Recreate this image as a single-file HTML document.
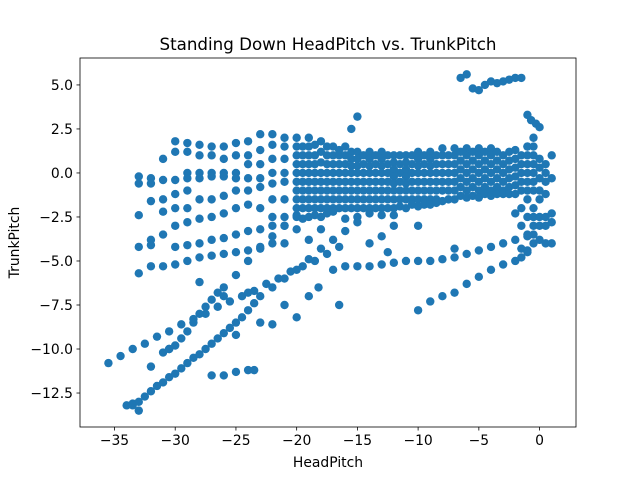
<!DOCTYPE html>
<html><head><meta charset="utf-8"><style>
body{margin:0;background:#fff;font-family:"DejaVu Sans","Liberation Sans",sans-serif;}
svg{display:block}
</style></head><body>
<svg id="chart" width="640" height="480"></svg>
<script>
// Track data (HeadPitch, TrunkPitch)
const track1X=[-35.5,-34.5,-33.5,-32.5,-31.5,-30.5,-29.5,-28.5,-27.5,-26.5,-25.5,-24.5,-23.5,-22.5,-21.5,-20.5,-19.5,-18.5,-17.5,-16.5];
const track1Y=[-10.8,-10.4,-10,-9.7,-9.3,-9,-8.6,-8.3,-8,-7.6,-7.3,-7,-6.7,-6.3,-6,-5.6,-5.3,-5,-4.6,-4.2];
const track2X=[-34,-33.5,-33,-32.5,-32,-31.5,-31,-30.5,-30,-29.5,-29,-28.5,-28,-27.5,-27,-26.5,-26,-25.5,-25,-24.5,-24,-23.5,-23,-22,-21,-20,-19,-18,-17,-16,-15];
const track2Y=[-13.2,-13.1,-13,-12.7,-12.4,-12.1,-11.9,-11.6,-11.4,-11.1,-10.8,-10.5,-10.3,-10,-9.7,-9.4,-9.1,-8.8,-8.5,-8.2,-7.8,-7.4,-7,-6.5,-6,-5.5,-4.9,-4.3,-3.8,-3.3,-2.8];
const track3X=[-31,-30.5,-30,-29.5,-29,-28.5,-28,-27.5,-27,-26.5,-26,-25,-24,-23,-22,-21,-20];
const track3Y=[-10.2,-10,-9.8,-9.4,-9,-8.5,-8,-7.6,-7.2,-6.8,-6.5,-5.8,-5,-4.3,-3.6,-3,-2.4];
const track4X=[-10,-9,-8,-7,-6,-5,-4,-3,-2,-1.5,-1];
const track4Y=[-7.8,-7.3,-7,-6.8,-6.3,-5.9,-5.5,-5.2,-5,-4.8,-4.5];
const track5X=[-17,-16,-15,-14,-13,-12,-11,-10,-9,-8,-7,-6,-5,-4,-3,-2,-1];
const track5Y=[-5.5,-5.3,-5.3,-5.3,-5.2,-5.1,-5,-5,-5,-4.9,-4.8,-4.6,-4.4,-4.2,-4,-3.8,-3.6];
const track6X=[-6.5,-6,-5.5,-5,-4.5,-4,-3.5,-3,-2.5,-2,-1.5,-1,-0.7,-0.3,0,-1,-0.5];
const track6Y=[5.4,5.6,4.8,4.7,5,5.2,5.1,5.2,5.3,5.4,5.4,3.3,3,2.8,2.6,1.5,2];
const outX=[-15,-15.5,-14,-12,-12.5,-19,-18,-25,-23,-21,-19,-20,-30.5,-32,-27,-26,-25,-24,-23.5,-33.5,-33,-18.2,-22,-24,-26,-28,-10,-7,-13,-16.5];
const outY=[3.2,2.5,-4,-3,-4.5,-3.8,-3.2,-9.2,-8.5,-7.5,-7,-8.2,-10,-11,-11.5,-11.5,-11.3,-11.2,-11.2,-13.2,-13.5,-6.5,-8.6,-6.8,-7,-6.2,-3,-4.3,-3.6,-7.5];
// Column data for dense band
const colX=[-33,-32,-31,-30,-29,-28,-27,-26,-25,-24,-23,-22,-21,
 -20,-19.5,-19,-18.5,-18,-17.5,-17,-16.5,-16,-15.5,-15,-14.5,-14,-13.5,-13,-12.5,-12,-11.5,-11,-10.5,-10,-9.5,-9,-8.5,-8,-7.5,-7,-6.5,-6,-5.5,-5,-4.5,-4,-3.5,-3,-2.5,-2,-1.5,-1,-0.5,0,0.5,1];
const colY=[
 [-0.2,-0.6,-2.4,-4.2,-5.7],
 [-0.3,-0.6,-1.6,-3.8,-4.1,-5.3],
 [0.8,-0.4,-1.5,-2.2,-3.5,-5.3],
 [1.8,1.2,-0.4,-1.2,-2,-3,-4.2,-5.2],
 [1.7,1.2,0,-0.3,-1,-2,-2.8,-4.1,-5],
 [1.6,1,0,-0.3,-1.5,-2.6,-4,-4.8],
 [1.5,1,0,-0.2,-1.5,-2.5,-3.8,-4.7],
 [1.5,0.8,0,-0.2,-1.3,-2.3,-3.7,-4.6],
 [1.7,1,0,-0.3,-1,-2,-3.5,-4.5],
 [1.8,1,0.5,-0.3,-1,-1.8,-3.3,-4.4],
 [2.2,1.3,0.5,-0.3,-0.8,-2,-3.2,-4.2],
 [2.2,1.6,0.8,0,-0.6,-1.5,-2.5,-3,-4],
 [2,1.5,0.8,0,-0.5,-1.5,-2.5,-3,-4],
 [2,1.5,1,0.5,0,-0.5,-1,-1.5,-2,-2.5,-3.2],
 [1.5,1,0.5,0,-0.5,-1,-1.5,-2,-2.6],
 [2,1.5,1,0.5,0,-0.5,-1,-1.5,-2,-2.5],
 [1.6,1,0.5,0,-0.5,-1,-1.5,-2,-2.4],
 [1.8,1.2,0.6,0,-0.5,-1,-1.5,-2,-2.5],
 [1.5,1,0.5,0,-0.5,-1,-1.5,-2,-2.3],
 [1.5,1,0.5,0,-0.5,-1,-1.5,-2,-2.2],
 [1.3,1,0.5,0,-0.5,-1,-1.5,-2],
 [1.5,1,0.5,0,-0.5,-1,-1.5,-2,-2.6],
 [1.2,0.8,0.4,0,-0.5,-1,-1.5,-2],
 [1.2,0.8,0.4,0,-0.5,-1,-1.5,-2,-2.5],
 [1,0.5,0,-0.5,-1,-1.5,-2],
 [1.2,0.8,0.4,0,-0.5,-1,-1.5,-2,-2.3],
 [1,0.5,0,-0.5,-1,-1.5,-2],
 [1.2,0.8,0.4,0,-0.5,-1,-1.5,-2,-2.4],
 [1,0.5,0,-0.5,-1,-1.5,-2],
 [1,0.6,0.2,-0.2,-0.6,-1,-1.5,-2,-2.4],
 [1,0.5,0,-0.5,-1,-1.5,-1.9],
 [1,0.6,0.2,-0.2,-0.6,-1,-1.5,-2],
 [1,0.5,0,-0.5,-1,-1.5,-1.8],
 [1.2,0.8,0.4,0,-0.5,-1,-1.5,-1.9],
 [1,0.5,0,-0.5,-1,-1.5,-1.8],
 [1.2,0.8,0.4,0,-0.5,-1,-1.5,-1.8],
 [1,0.5,0,-0.5,-1,-1.5,-1.7],
 [1.4,1,0.5,0,-0.5,-1,-1.6],
 [1,0.5,0,-0.5,-1,-1.5],
 [1.4,1,0.5,0,-0.5,-1,-1.5],
 [1.2,0.7,0.2,-0.3,-0.8,-1.3],
 [1.4,1,0.5,0,-0.5,-1,-1.4],
 [1.2,0.7,0.2,-0.3,-0.8,-1.3],
 [1.4,1,0.5,0,-0.5,-1,-1.4],
 [1.2,0.7,0.2,-0.3,-0.8,-1.2],
 [1.4,1,0.5,0,-0.5,-1,-1.3],
 [1.2,0.7,0.2,-0.3,-0.8,-1.2],
 [1,0.5,0,-0.5,-1,-1.2],
 [1.2,0.7,0.2,-0.3,-0.8,-1.2],
 [1.3,0.8,0.3,-0.2,-0.7,-1.2,-2.3],
 [1,0.5,0,-0.5,-1,-2,-3,-4.3],
 [1.5,1,0.5,0,-0.5,-1,-1.5,-2.5,-3.5,-4.4],
 [1.5,1,0.5,0,-0.5,-1,-2,-2.5,-3,-3.5,-4],
 [0.8,0.3,-0.3,-1,-1.5,-2.5,-3,-3.8],
 [0.5,0,-0.5,-1.2,-2.5,-3,-4],
 [1,-0.3,-2.3,-2.8,-4]
];

const svg=document.getElementById('chart');
const NS='http://www.w3.org/2000/svg';
const L=80,R=576,T=58,B=427;
const xMin=-37.84,xMax=3.0,yMin=-14.43,yMax=6.53;
function sx(v){return L+(v-xMin)/(xMax-xMin)*(R-L);}
function sy(v){return B-(v-yMin)/(yMax-yMin)*(B-T);}
function mk(tag,attrs){const e=document.createElementNS(NS,tag);for(const k in attrs)e.setAttribute(k,attrs[k]);svg.appendChild(e);return e;}

const pts=mk('g',{});


function dot(x,y){const c=document.createElementNS(NS,'circle');c.setAttribute('cx',sx(x));c.setAttribute('cy',sy(y));c.setAttribute('r',4.2);c.setAttribute('fill','#1f77b4');


pts.appendChild(c);}
[[track1X,track1Y],[track2X,track2Y],[track3X,track3Y],[track4X,track4Y],[track5X,track5Y],[track6X,track6Y],[outX,outY]].forEach(p=>{for(let i=0;i<p[0].length;i++)dot(p[0][i],p[1][i]);});
for(let i=0;i<colX.length;i++)for(const y of colY[i])dot(colX[i],y);

const fr=mk('rect',{x:L,y:T,width:R-L,height:B-T,fill:'none',stroke:'#000','stroke-width':0.8});



const xTicks=[-35,-30,-25,-20,-15,-10,-5,0];
const yTicks=[5.0,2.5,0.0,-2.5,-5.0,-7.5,-10.0,-12.5];
for(const t of xTicks){const X=sx(t);mk('line',{x1:X,x2:X,y1:B,y2:B+3.5,stroke:'#000','stroke-width':0.8});
const tx=mk('text',{x:X,y:B+18,'text-anchor':'middle','font-size':13.9,fill:'#000'});tx.textContent=String(t).replace('-','−');

}
for(const t of yTicks){const Y=sy(t);mk('line',{x1:L-3.5,x2:L,y1:Y,y2:Y,stroke:'#000','stroke-width':0.8});
const tx=mk('text',{x:L-7,y:Y+5,'text-anchor':'end','font-size':13.9,fill:'#000'});tx.textContent=t.toFixed(1).replace('-','−');

}
const ttl=mk('text',{x:(L+R)/2,y:50,'text-anchor':'middle','font-size':16.7,fill:'#000'});ttl.textContent='Standing Down HeadPitch vs. TrunkPitch';


const xl=mk('text',{x:(L+R)/2,y:467,'text-anchor':'middle','font-size':13.9,fill:'#000'});xl.textContent='HeadPitch';


const yl=mk('text',{x:0,y:0,'text-anchor':'middle','font-size':13.9,fill:'#000',transform:'translate(19,'+((T+B)/2)+') rotate(-90)'});yl.textContent='TrunkPitch';


</script>
</body></html>
